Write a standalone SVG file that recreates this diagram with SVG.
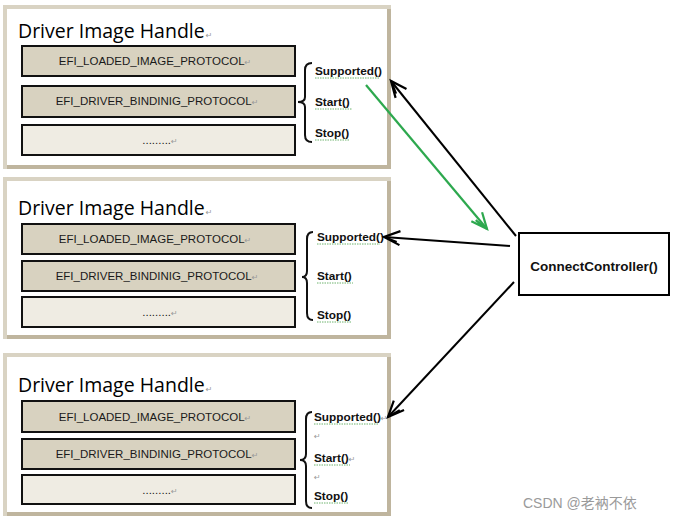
<svg xmlns="http://www.w3.org/2000/svg" width="675" height="522" viewBox="0 0 675 522">
<style>
.frame{fill:#ffffff;stroke:#d9d3c3;stroke-width:4}
.shadow{fill:none;stroke:#bfb59e;stroke-width:4}
.box{fill:#d8d2c0;stroke:#111;stroke-width:2}
.box3{fill:#efece3;stroke:#111;stroke-width:2}
.title{font-family:"Open Sans","Liberation Sans",sans-serif;font-size:19.5px;fill:#000}
.bt{font-family:"Liberation Sans",Arial,sans-serif;font-size:11.5px;fill:#1a1a1a;text-anchor:middle}
.lbl{font-family:"Liberation Sans",Arial,sans-serif;font-size:11.8px;font-weight:bold;fill:#111}
.ret{font-family:"DejaVu Sans",sans-serif;font-size:8px;fill:#999;font-weight:normal}
.wav{fill:none;stroke:#6fb46f;stroke-width:1;stroke-dasharray:1.5,1}
.brace{fill:none;stroke:#111;stroke-width:2}
.arr{fill:none;stroke:#000;stroke-width:2}
.garr{fill:none;stroke:#2da84e;stroke-width:2.2}
</style>
<defs>
<marker id="ah" markerUnits="userSpaceOnUse" markerWidth="20" markerHeight="20" refX="17" refY="8" orient="auto" viewBox="0 0 20 16">
<path d="M1,1 L17,8 L1,15 M4,4 L17,8" fill="none" stroke="#000" stroke-width="2.2"/>
</marker>
<marker id="gh" markerUnits="userSpaceOnUse" markerWidth="20" markerHeight="20" refX="17" refY="8" orient="auto" viewBox="0 0 20 16">
<path d="M1,1 L17,8 L1,15 M3,11 L17,8" fill="none" stroke="#2da84e" stroke-width="2.2"/>
</marker>
</defs>

<g id="handle1">
<rect class="frame" x="5" y="7" width="384" height="160"/>
<path class="shadow" d="M389,9 V167 H7"/>
<text class="title" x="18" y="38">Driver Image Handle<tspan class="ret" dx="1">↵</tspan></text>
<rect class="box" x="22" y="46" width="273" height="30"/>
<text class="bt" x="155" y="65">EFI_LOADED_IMAGE_PROTOCOL<tspan class="ret">↵</tspan></text>
<rect class="box" x="22" y="86" width="273" height="31"/>
<text class="bt" x="157" y="105">EFI_DRIVER_BINDINIG_PROTOCOL<tspan class="ret">↵</tspan></text>
<rect class="box3" x="22" y="125" width="273" height="30"/>
<text class="bt" x="160" y="144">.........<tspan class="ret">↵</tspan></text>
<path class="brace" d="M312,63 Q305,63 305,70 L305,97 Q305,102 298,102 Q305,102 305,107 L305,135 Q305,142 312,142"/>
<text class="lbl" x="315" y="75">Supported()</text>
<path class="wav" d="M315,78 H380"/>
<text class="lbl" x="315" y="106">Start()</text>
<path class="wav" d="M315,109 H352"/>
<text class="lbl" x="315" y="137">Stop()</text>
<path class="wav" d="M315,140 H350"/>
</g>

<g id="handle2">
<rect class="frame" x="5" y="179" width="384" height="158"/>
<path class="shadow" d="M389,181 V337 H7"/>
<text class="title" x="18" y="215">Driver Image Handle<tspan class="ret" dx="1">↵</tspan></text>
<rect class="box" x="22" y="224" width="273" height="30"/>
<text class="bt" x="155" y="243">EFI_LOADED_IMAGE_PROTOCOL<tspan class="ret">↵</tspan></text>
<rect class="box" x="22" y="261" width="273" height="30"/>
<text class="bt" x="157" y="280">EFI_DRIVER_BINDINIG_PROTOCOL<tspan class="ret">↵</tspan></text>
<rect class="box3" x="22" y="297" width="273" height="30"/>
<text class="bt" x="160" y="316">.........<tspan class="ret">↵</tspan></text>
<path class="brace" d="M313,232 Q307,232 307,239 L307,271 Q307,277 302,277 Q307,277 307,283 L307,313 Q307,320 313,320"/>
<text class="lbl" x="317" y="241">Supported()</text>
<path class="wav" d="M317,244 H380"/>
<text class="lbl" x="317" y="280">Start()</text>
<path class="wav" d="M317,283 H353"/>
<text class="lbl" x="317" y="319">Stop()</text>
<path class="wav" d="M317,322 H351"/>
</g>

<g id="handle3">
<rect class="frame" x="5" y="355" width="384" height="159"/>
<path class="shadow" d="M389,357 V514 H7"/>
<text class="title" x="18" y="392">Driver Image Handle<tspan class="ret" dx="1">↵</tspan></text>
<rect class="box" x="22" y="401" width="273" height="31"/>
<text class="bt" x="155" y="421">EFI_LOADED_IMAGE_PROTOCOL<tspan class="ret">↵</tspan></text>
<rect class="box" x="22" y="439" width="273" height="30"/>
<text class="bt" x="157" y="458">EFI_DRIVER_BINDINIG_PROTOCOL<tspan class="ret">↵</tspan></text>
<rect class="box3" x="22" y="475" width="273" height="29"/>
<text class="bt" x="160" y="494">.........<tspan class="ret">↵</tspan></text>
<path class="brace" d="M312,412 Q306,412 306,419 L306,454 Q306,460 300,460 Q306,460 306,466 L306,501 Q306,508 312,508"/>
<text class="lbl" x="314" y="421">Supported()<tspan class="ret">↵</tspan></text>
<path class="wav" d="M314,424 H378"/>
<text class="ret" x="314" y="439">↵</text>
<text class="lbl" x="314" y="462">Start()<tspan class="ret">↵</tspan></text>
<path class="wav" d="M314,465 H350"/>
<text class="ret" x="314" y="480">↵</text>
<text class="lbl" x="314" y="500">Stop()</text>
<path class="wav" d="M314,503 H348"/>
</g>

<g id="connect">
<rect x="519" y="233" width="150" height="62" fill="#fff" stroke="#000" stroke-width="2"/>
<text x="594" y="271" text-anchor="middle" font-family="Liberation Sans,Arial,sans-serif" font-size="13.5" font-weight="bold" fill="#111">ConnectController()</text>
</g>

<g id="connectors">
<path class="arr" d="M516,236 L391,81" marker-end="url(#ah)"/>
<path class="garr" d="M366,85 L487,229" marker-end="url(#gh)"/>
<path class="arr" d="M510,246 L384,237" marker-end="url(#ah)"/>
<path class="arr" d="M514,282 L388,417" marker-end="url(#ah)"/>
</g>

<text x="523" y="508" font-family="Liberation Sans,Noto Sans CJK SC,sans-serif" font-size="14" fill="#9a9a9a">CSDN @老衲不依</text>
</svg>
